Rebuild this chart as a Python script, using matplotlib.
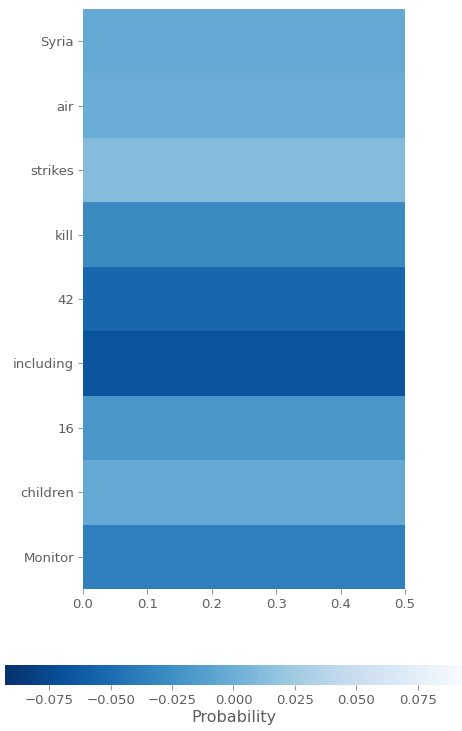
import numpy as np
import matplotlib
matplotlib.use("Agg")
from matplotlib import pyplot as plt

words = ["Syria", "air", "strikes", "kill", "42", "including", "16", "children", "Monitor"]
scores = [-0.003, -0.001, 0.012, -0.028, -0.054, -0.067, -0.019, -0.004, -0.037]
x_ticks = [0.0, 0.1, 0.2, 0.3, 0.4, 0.5]
cbar_ticks = [-0.075, -0.050, -0.025, 0.000, 0.025, 0.050, 0.075]
limit = 0.093

grey = "#5e5e5e"
plt.rcParams["text.color"] = grey
plt.rcParams["axes.labelcolor"] = grey
plt.rcParams["xtick.color"] = grey
plt.rcParams["ytick.color"] = grey

fig = plt.figure(figsize=(4.62, 7.31), dpi=100)
W, H = 462, 731

ax = fig.add_axes([83 / W, 1 - 589 / H, (405 - 83) / W, (589 - 9) / H])
data = np.array(scores).reshape(-1, 1)
x_edges = [0.0, 0.5]
y_edges = np.arange(len(words) + 1)
mesh = ax.pcolormesh(x_edges, y_edges, data, cmap="Blues_r", vmin=-limit, vmax=limit)
ax.set_ylim(len(words), 0)
ax.set_xlim(0, 0.5)
ax.set_yticks(np.arange(len(words)) + 0.5)
ax.set_yticklabels(words, fontsize=9.5)
ax.set_xticks(x_ticks)
ax.set_xticklabels([f"{t:.1f}" for t in x_ticks], fontsize=9.5)
for s in ax.spines.values():
    s.set_visible(False)
ax.tick_params(axis="both", length=3.5, width=0.8, pad=3, colors="#999999", labelcolor=grey)

cax = fig.add_axes([5 / W, 1 - 685 / H, (462 - 5) / W, 20 / H])
cb = fig.colorbar(mesh, cax=cax, orientation="horizontal")
cb.set_ticks(cbar_ticks)
cb.set_ticklabels([f"{t:.3f}".replace("-", "\u2212") for t in cbar_ticks])
cb.outline.set_visible(False)
cax.tick_params(length=3.5, width=0.8, pad=3, colors="#999999", labelcolor=grey, labelsize=9.5)
cb.set_label("Probability", fontsize=11.5, color=grey, labelpad=2)

fig.savefig("out.png", dpi=100)
